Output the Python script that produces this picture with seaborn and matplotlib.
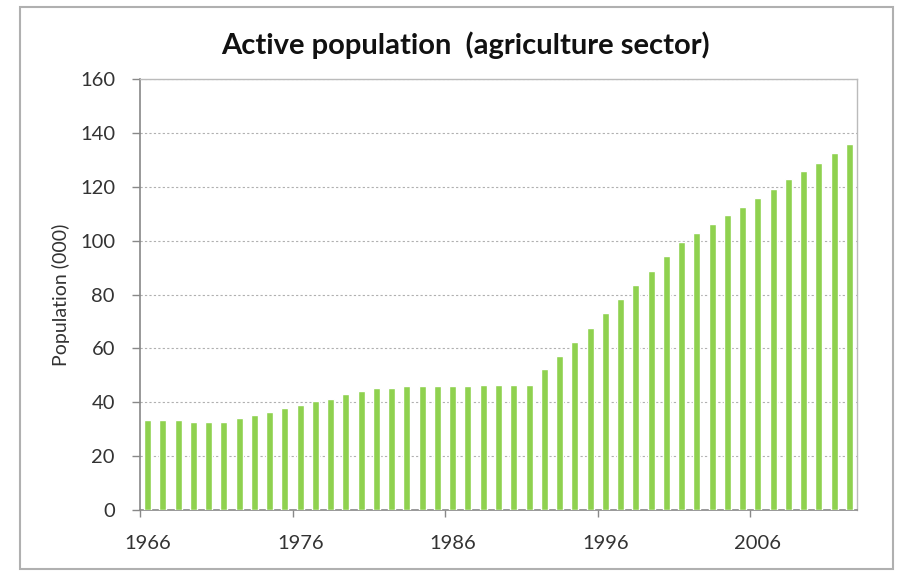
import matplotlib
matplotlib.use("Agg")
import matplotlib.pyplot as plt
import seaborn as sns
import pandas as pd
from matplotlib.patches import Rectangle

# Active population in the agriculture sector, thousands, 1966-2012
years = list(range(1966, 2013))
population = [
    33.4, 33.4, 33.4, 32.8, 32.8, 32.8, 34.0, 35.3, 36.4, 37.9,
    39.0, 40.3, 41.2, 43.1, 44.2, 45.2, 45.4, 45.9, 46.0, 46.0,
    46.0, 46.0, 46.3, 46.3, 46.3, 46.3, 52.2, 57.1, 62.5, 67.7,
    73.2, 78.2, 83.5, 88.9, 94.4, 99.6, 102.9, 106.1, 109.5, 112.6,
    115.7, 119.1, 122.7, 125.9, 128.9, 132.4, 135.7,
]
tick_years = [1966, 1976, 1986, 1996, 2006]
y_ticks = [0, 20, 40, 60, 80, 100, 120, 140, 160]

df = pd.DataFrame({"year": [str(y) for y in years], "population": population})

sns.set_theme(style="white")
plt.rcParams["font.family"] = ["Lato", "DejaVu Sans"]

fig = plt.figure(figsize=(9.01, 5.73), dpi=100)
fig.patch.set_facecolor("white")
ax = fig.add_axes([140 / 901, 63 / 573, 717 / 901, 431 / 573])

sns.barplot(data=df, x="year", y="population", color="#8FD14F",
            saturation=1, width=0.46, ax=ax, zorder=3)

ax.set_xlim(-0.5, len(years) - 0.5)
ax.set_ylim(0, 160)
ax.set_yticks(y_ticks)
ax.set_yticklabels([str(v) for v in y_ticks])

# category labels every ten years, tick marks on category boundaries
label_pos = [years.index(y) for y in tick_years]
ax.set_xticks(label_pos)
ax.set_xticklabels([str(y) for y in tick_years])
ax.tick_params(axis="x", which="major", length=0, pad=18,
               labelsize=14.5, labelcolor="#333333")
ax.set_xticks([p - 0.5 for p in label_pos[1:]] + [-0.5], minor=True)
ax.tick_params(axis="x", which="minor", length=5, width=1,
               color="#888888", direction="out", bottom=True)
ax.tick_params(axis="y", length=6, width=1, color="#888888",
               direction="out", left=True, pad=12,
               labelsize=14.5, labelcolor="#333333")

ax.yaxis.grid(True, linestyle=(0, (2, 2)), color="#b0b0b0", linewidth=0.8, zorder=0)
ax.xaxis.grid(False)

for side in ["left", "bottom"]:
    ax.spines[side].set_color("#888888")
    ax.spines[side].set_linewidth(1.2)
for side in ["top", "right"]:
    ax.spines[side].set_visible(True)
    ax.spines[side].set_color("#bbbbbb")
    ax.spines[side].set_linewidth(1.0)

ax.set_xlabel("")
ax.set_ylabel("Population (000)", fontsize=14, color="#333333", labelpad=7)

fig.text(0.5 * (220 + 710) / 901, 1 - 45 / 573, "Active population  (agriculture sector)",
         ha="center", va="center", fontsize=21, fontweight="bold", color="#111111")

# chart area frame
fig.patches.append(Rectangle((20 / 901, 4 / 573), 873 / 901, 562 / 573,
                             transform=fig.transFigure, fill=False,
                             edgecolor="#b0b0b0", linewidth=1.5))

fig.savefig("out.png", dpi=100)
